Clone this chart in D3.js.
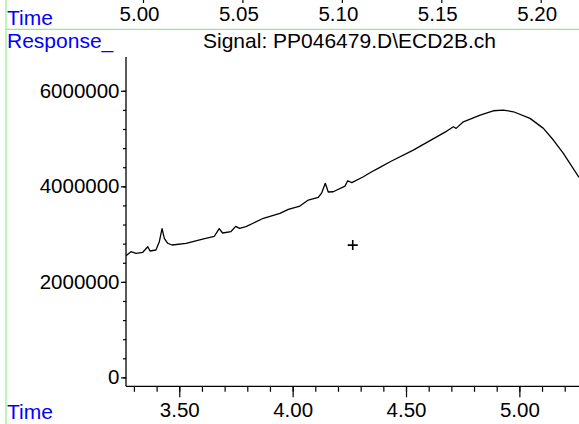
<!DOCTYPE html>
<html lang="en">
<head>
    <meta charset="UTF-8">
    <title>Signal: PP046479.D\ECD2B.ch</title>
    <script src="https://cdn.jsdelivr.net/npm/d3@7"></script>
    <style>
        html, body { margin: 0; padding: 0; background: #fff; overflow: hidden; }
        text { font-family: "Liberation Sans", Arial, sans-serif; }
    </style>
</head>
<body>
<div id="fig"></div>
<script>

    // retention time (min) and detector response
    const times = [3.265, 3.287, 3.309, 3.339, 3.361, 3.371, 3.397, 3.412, 3.424, 3.434,
        3.449, 3.468, 3.530, 3.603, 3.654, 3.676, 3.691, 3.728, 3.749, 3.766,
        3.794, 3.871, 3.944, 3.981, 4.032, 4.069, 4.113, 4.128, 4.144, 4.157,
        4.179, 4.231, 4.243, 4.261, 4.312, 4.341, 4.385, 4.430, 4.532, 4.680,
        4.709, 4.721, 4.753, 4.827, 4.885, 4.929, 4.974, 5.047, 5.106, 5.150,
        5.194, 5.263]
    const responses = [2548000, 2632000, 2598000, 2619000, 2736000, 2646000, 2667000, 2841000, 3115000, 2912000,
        2808000, 2772000, 2808000, 2897000, 2950000, 3115000, 3023000, 3054000, 3163000, 3121000,
        3155000, 3331000, 3435000, 3519000, 3588000, 3713000, 3770000, 3860000, 4063000, 3881000,
        3887000, 4006000, 4117000, 4079000, 4201000, 4285000, 4397000, 4515000, 4759000, 5157000,
        5247000, 5213000, 5351000, 5492000, 5582000, 5596000, 5561000, 5423000, 5213000, 4969000,
        4690000, 4188000]

    // axis ticks
    const bottomMajor = [3.5, 4.0, 4.5, 5.0]
    const bottomMinor = d3.range(33, 53).map(d => d / 10)
    const yMajor = [0, 2000000, 4000000, 6000000]
    const yMinor = d3.range(0, 16).map(d => d * 400000)
    const topTicks = [5.00, 5.05, 5.10, 5.15, 5.20]

    // cursor cross
    const cursorTime = [4.265]
    const cursorResp = [2770000]

    const W = 579, H = 424
    const plot = {left: 126, top: 57, bottom: 386.3, right: 579}
    const blue = "#0000ff"
    const green = "#90ee90"

    let svg = d3.select("#fig")
        .append("svg")
        .attr("width", W)
        .attr("height", H)
        .attr("viewBox", [0, 0, W, H])

    const x = d3.scaleLinear().domain([3.265, 5.263]).range([plot.left, plot.right])
    const y = d3.scaleLinear().domain([0, 6000000]).range([377.4, 90.8])
    const xTop = d3.scaleLinear().domain([5.0, 5.2]).range([143, 540.7])

    // frame lines
    svg.append("line").attr("x1", 6).attr("x2", 6).attr("y1", 0).attr("y2", H)
        .attr("stroke", green).attr("stroke-width", 1.2)
    svg.append("line").attr("x1", 6).attr("x2", W).attr("y1", 29.3).attr("y2", 29.3)
        .attr("stroke", green).attr("stroke-width", 1.2)

    // labels
    svg.append("text").attr("x", 7).attr("y", 25).attr("fill", blue)
        .style("font-size", "21px").text("Time")
    svg.append("text").attr("x", 7).attr("y", 48.3).attr("fill", blue)
        .style("font-size", "21px").text("Response_")
    svg.append("text").attr("x", 7).attr("y", 419).attr("fill", blue)
        .style("font-size", "21px").text("Time")
    svg.append("text").attr("x", 203).attr("y", 48.3).attr("fill", "#000")
        .style("font-size", "21px").text("Signal: PP046479.D\\ECD2B.ch")

    // top time ruler
    const topAxis = svg.append("g")
        .call(d3.axisBottom(xTop).tickValues(topTicks).tickSize(3).tickPadding(3)
            .tickFormat(d3.format(".2f")))
    topAxis.select(".domain").remove()
    topAxis.selectAll("text").attr("dx", "-4px").style("font-size", "20.5px")
        .style("font-family", "'Liberation Sans', Arial, sans-serif").attr("fill", "#000")

    // bottom axis: minor then major ticks
    const xMinorG = svg.append("g")
        .attr("transform", `translate(0,${plot.bottom})`)
        .call(d3.axisBottom(x).tickValues(bottomMinor).tickSize(5.5).tickFormat(""))
    xMinorG.select(".domain").remove()
    const xMajorG = svg.append("g")
        .attr("transform", `translate(0,${plot.bottom})`)
        .call(d3.axisBottom(x).tickValues(bottomMajor).tickSize(11).tickPadding(4.8)
            .tickFormat(d3.format(".2f")))
    xMajorG.select(".domain").remove()
    xMajorG.selectAll("text").style("font-size", "20.5px")
        .style("font-family", "'Liberation Sans', Arial, sans-serif")

    // left axis
    const yMinorG = svg.append("g")
        .attr("transform", `translate(${plot.left},0)`)
        .call(d3.axisLeft(y).tickValues(yMinor).tickSize(3).tickFormat(""))
    yMinorG.select(".domain").remove()
    const yMajorG = svg.append("g")
        .attr("transform", `translate(${plot.left},0)`)
        .call(d3.axisLeft(y).tickValues(yMajor).tickSize(5).tickPadding(1.5)
            .tickFormat(d3.format("d")))
    yMajorG.select(".domain").remove()
    yMajorG.selectAll("text").style("font-size", "20.5px")
        .style("font-family", "'Liberation Sans', Arial, sans-serif")

    svg.selectAll(".tick line").attr("stroke", "#000").attr("stroke-width", 1.2)

    // axis lines
    svg.append("line").attr("x1", plot.left).attr("x2", plot.left)
        .attr("y1", plot.top).attr("y2", plot.bottom)
        .attr("stroke", "#000").attr("stroke-width", 1.3)
    svg.append("line").attr("x1", plot.left).attr("x2", plot.right)
        .attr("y1", plot.bottom).attr("y2", plot.bottom)
        .attr("stroke", "#000").attr("stroke-width", 1.3)

    // trace
    const trace = d3.zip(times, responses)
    const line = d3.line().x(d => x(d[0])).y(d => y(d[1]))
    svg.append("path")
        .datum(trace)
        .attr("d", line)
        .attr("fill", "none")
        .attr("stroke", "#000")
        .attr("stroke-width", 1.3)
        .attr("stroke-linejoin", "round")

    // cursor
    svg.selectAll(".cursor")
        .data(d3.zip(cursorTime, cursorResp))
        .enter()
        .append("path")
        .attr("class", "cursor")
        .attr("d", d => {
            const cx = x(d[0]), cy = y(d[1])
            return `M${cx - 5},${cy}H${cx + 5}M${cx},${cy - 5}V${cy + 5}`
        })
        .attr("stroke", "#000")
        .attr("stroke-width", 1.6)

</script>
</body>
</html>
